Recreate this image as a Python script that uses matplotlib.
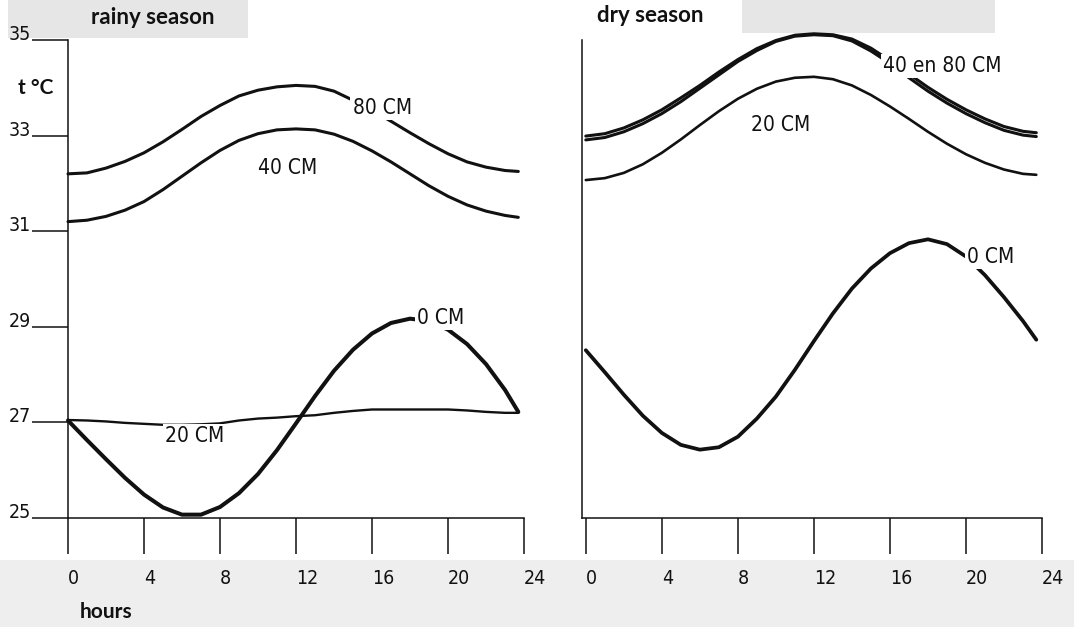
"""
Soil temperature over the day at several depths, rainy vs dry season
"""
import matplotlib
matplotlib.use("Agg")
import matplotlib.pyplot as plt
from matplotlib.patches import Rectangle

# hours of the day (curves stop just short of 24)
HOURS = [0, 1, 2, 3, 4, 5, 6, 7, 8, 9, 10, 11, 12,
         13, 14, 15, 16, 17, 18, 19, 20, 21, 22, 23, 23.7]

# rainy season, t in deg C
RAIN_80 = [32.20, 32.22, 32.32, 32.46, 32.64, 32.87, 33.13, 33.40, 33.63, 33.83, 33.95, 34.02, 34.05,
           34.03, 33.93, 33.74, 33.53, 33.30, 33.06, 32.83, 32.62, 32.45, 32.34, 32.27, 32.25]
RAIN_40 = [31.20, 31.23, 31.31, 31.44, 31.62, 31.87, 32.15, 32.43, 32.69, 32.90, 33.04, 33.12, 33.14,
           33.12, 33.03, 32.88, 32.68, 32.45, 32.20, 31.95, 31.73, 31.55, 31.42, 31.33, 31.29]
RAIN_20 = [27.05, 27.04, 27.02, 26.99, 26.97, 26.95, 26.95, 26.96, 26.98, 27.04, 27.08, 27.10, 27.13,
           27.15, 27.20, 27.24, 27.27, 27.27, 27.27, 27.27, 27.27, 27.25, 27.22, 27.20, 27.20]
RAIN_0 = [27.04, 26.63, 26.23, 25.84, 25.49, 25.22, 25.07, 25.07, 25.23, 25.52, 25.92, 26.42, 26.98,
          27.55, 28.08, 28.52, 28.86, 29.08, 29.17, 29.12, 28.94, 28.64, 28.22, 27.68, 27.22]

# dry season (40 and 80 cm nearly on top of each other)
DRY_80 = [32.99, 33.04, 33.16, 33.33, 33.54, 33.79, 34.05, 34.33, 34.59, 34.82, 34.99, 35.10, 35.13,
          35.11, 35.02, 34.83, 34.57, 34.29, 34.01, 33.76, 33.54, 33.35, 33.19, 33.09, 33.06]
DRY_40 = [32.91, 32.96, 33.08, 33.25, 33.46, 33.71, 33.99, 34.27, 34.55, 34.78, 34.97, 35.08, 35.11,
          35.09, 34.98, 34.77, 34.51, 34.21, 33.93, 33.68, 33.46, 33.27, 33.11, 33.01, 32.98]
DRY_20 = [32.07, 32.11, 32.22, 32.40, 32.64, 32.92, 33.22, 33.51, 33.77, 33.98, 34.13, 34.21, 34.23,
          34.18, 34.05, 33.85, 33.61, 33.35, 33.08, 32.83, 32.61, 32.43, 32.29, 32.20, 32.18]
DRY_0 = [28.51, 28.05, 27.58, 27.14, 26.78, 26.53, 26.43, 26.48, 26.70, 27.08, 27.54, 28.10, 28.70,
         29.28, 29.80, 30.22, 30.54, 30.75, 30.83, 30.73, 30.47, 30.08, 29.62, 29.12, 28.73]

XTICKS = [0, 4, 8, 12, 16, 20, 24]
YTICKS = [25, 27, 29, 31, 33, 35]

W, H = 1074, 627
INK = "#111111"
NUM_FONT = dict(family="DejaVu Sans", fontstretch="condensed")
BOLD_FONT = dict(family=["Lato", "DejaVu Sans"], fontweight="bold")


def px(x, y, w, h):
    # pixel box (top-left origin) -> figure fraction
    return [x / W, 1 - (y + h) / H, w / W, h / H]


def style_axes(ax, show_y):
    for s in ("top", "right"):
        ax.spines[s].set_visible(False)
    for s in ("left", "bottom"):
        ax.spines[s].set_linewidth(1.1)
        ax.spines[s].set_color(INK)
    ax.set_facecolor("none")
    ax.set_ylim(25, 35)
    ax.set_xticks(XTICKS, [str(t) for t in XTICKS], ha="left", fontsize=14, **NUM_FONT)
    ax.tick_params(axis="x", direction="out", length=26, width=1.1, pad=11, colors=INK)
    if show_y:
        ax.set_yticks(YTICKS, [str(t) for t in YTICKS], va="baseline", fontsize=14, **NUM_FONT)
        ax.tick_params(axis="y", direction="out", length=26, width=1.1, pad=1, colors=INK)
    else:
        ax.set_yticks([])


def curve(ax, y, lw):
    ax.plot(HOURS, y, color=INK, lw=lw, clip_on=False,
            solid_joinstyle="round", solid_capstyle="round")


def label(ax, x, y, txt):
    ax.text(x, y, txt, ha="center", va="center", fontsize=15, color=INK, zorder=5,
            bbox=dict(facecolor="white", edgecolor="none", pad=1.5), **NUM_FONT)


fig = plt.figure(figsize=(W / 100, H / 100), dpi=100)

# scanned-page grey patches, kept behind everything
fig.patches.append(Rectangle((0, 0), 1, (H - 560) / H, transform=fig.transFigure,
                             facecolor="#eeeeee", edgecolor="none", zorder=-10))
for box in (px(8, 0, 240, 38), px(742, 0, 253, 33)):
    fig.patches.append(Rectangle((box[0], box[1]), box[2], box[3], transform=fig.transFigure,
                                 facecolor="#e6e6e6", edgecolor="none", zorder=-10))

# rainy season
ax1 = fig.add_axes(px(68, 40, 456, 478))
ax1.set_xlim(0, 24)
style_axes(ax1, True)
curve(ax1, RAIN_80, 2.2)
curve(ax1, RAIN_40, 2.2)
curve(ax1, RAIN_20, 1.7)
curve(ax1, RAIN_0, 2.9)
label(ax1, 16.53, 33.58, "80 CM")
label(ax1, 11.55, 32.32, "40 CM")
label(ax1, 19.63, 29.18, "0 CM")
label(ax1, 6.67, 26.72, "20 CM")

# dry season
ax2 = fig.add_axes(px(582, 40, 460, 478))
ax2.set_xlim(-0.2, 24)
style_axes(ax2, False)
curve(ax2, DRY_80, 2.2)
curve(ax2, DRY_40, 2.2)
curve(ax2, DRY_20, 1.9)
curve(ax2, DRY_0, 2.7)
label(ax2, 18.74, 34.46, "40 en 80 CM")
label(ax2, 10.26, 33.22, "20 CM")
label(ax2, 21.29, 30.46, "0 CM")

fig.text(153 / W, 1 - 18 / H, "rainy season", ha="center", va="center", fontsize=16, color=INK, **BOLD_FONT)
fig.text(650 / W, 1 - 16 / H, "dry season", ha="center", va="center", fontsize=16, color=INK, **BOLD_FONT)
fig.text(36 / W, 1 - 88 / H, "t °C", ha="center", va="center", fontsize=15, color=INK, **BOLD_FONT)
fig.text(106 / W, 1 - 612 / H, "hours", ha="center", va="center", fontsize=15, color=INK, **BOLD_FONT)

fig.savefig("out.png", dpi=100)
plt.close(fig)
